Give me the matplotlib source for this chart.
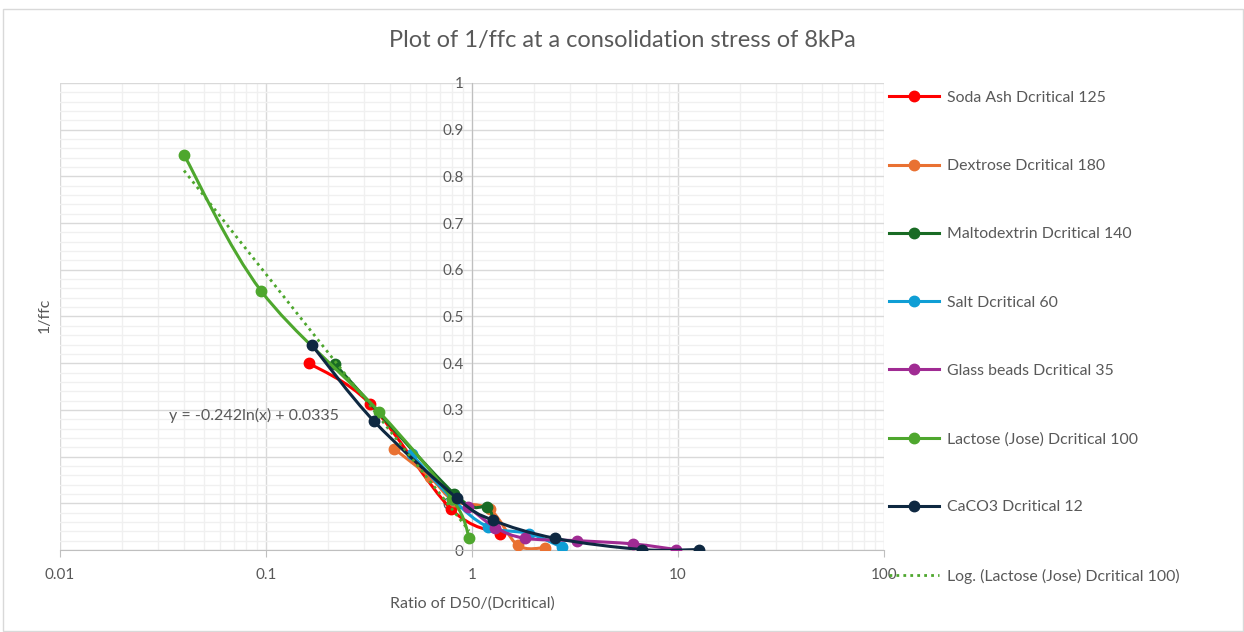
import numpy as np
import matplotlib
matplotlib.use("Agg")
import matplotlib.pyplot as plt
from matplotlib.path import Path
from matplotlib.patches import PathPatch, Rectangle
from matplotlib.lines import Line2D
from matplotlib.ticker import LogLocator, MultipleLocator, FixedLocator, FixedFormatter

plt.rcParams['font.family'] = ['Lato', 'DejaVu Sans']

# data: ratio D50/Dcritical and 1/ffc
soda_x = [0.162, 0.32, 0.79, 1.37]
soda_y = [0.400, 0.313, 0.088, 0.035]

dextrose_x = [0.418, 0.625, 0.82, 1.22, 1.67, 2.26]
dextrose_y = [0.217, 0.156, 0.105, 0.087, 0.010, 0.005]

malto_x = [0.216, 0.82, 1.18, 1.27]
malto_y = [0.398, 0.120, 0.092, 0.060]

salt_x = [0.51, 0.80, 1.19, 1.90, 2.73]
salt_y = [0.205, 0.110, 0.050, 0.035, 0.006]

glass_x = [0.96, 1.30, 1.81, 3.24, 6.05, 9.8]
glass_y = [0.092, 0.048, 0.025, 0.020, 0.013, 0.001]

lactose_x = [0.040, 0.0946, 0.354, 0.80, 0.97]
lactose_y = [0.846, 0.555, 0.296, 0.110, 0.026]

caco3_x = [0.167, 0.334, 0.845, 1.26, 2.53, 6.7, 12.6]
caco3_y = [0.439, 0.276, 0.111, 0.064, 0.025, 0.001, 0.001]

labels = ['Soda Ash Dcritical 125', 'Dextrose Dcritical 180', 'Maltodextrin Dcritical 140',
          'Salt Dcritical 60', 'Glass beads Dcritical 35', 'Lactose (Jose) Dcritical 100',
          'CaCO3 Dcritical 12']
colors = ['#FF0000', '#E97132', '#196B24', '#0F9ED5', '#A02B93', '#4EA72E', '#0E2841']

# log trendline shown on the chart
trend_a = -0.242
trend_b = 0.0335
trend_label = 'Log. (Lactose (Jose) Dcritical 100)'

series = [(soda_x, soda_y), (dextrose_x, dextrose_y), (malto_x, malto_y), (salt_x, salt_y),
          (glass_x, glass_y), (lactose_x, lactose_y), (caco3_x, caco3_y)]


def smooth_path(xs, ys):
    # Excel style smoothed line, bezier built in log-x space
    lx = np.log10(np.array(xs, dtype=float))
    y = np.array(ys, dtype=float)
    p = np.column_stack([lx, y])
    n = len(p)
    verts = [p[0]]
    codes = [Path.MOVETO]
    for i in range(n - 1):
        p0 = p[i - 1] if i > 0 else p[i]
        p3 = p[i + 2] if i + 2 < n else p[i + 1]
        c1 = p[i] + (p[i + 1] - p0) / 6.0
        c2 = p[i + 1] - (p3 - p[i]) / 6.0
        verts += [c1, c2, p[i + 1]]
        codes += [Path.CURVE4] * 3
    verts = np.array(verts)
    verts[:, 0] = 10 ** verts[:, 0]
    return Path(verts, codes)


fig = plt.figure(figsize=(12.44, 6.32), dpi=100)
W, H = 1244, 632
ax = fig.add_axes([60 / W, 1 - 550 / H, (884 - 60) / W, (550 - 83) / H])

ax.set_xscale('log')
ax.set_xlim(0.01, 100)
ax.set_ylim(0, 1)

ax.xaxis.set_major_locator(FixedLocator([0.01, 0.1, 1, 10, 100]))
ax.xaxis.set_major_formatter(FixedFormatter(['0.01', '0.1', '1', '10', '100']))
ax.xaxis.set_minor_locator(LogLocator(base=10, subs=np.arange(2, 10)))
ax.yaxis.set_major_locator(MultipleLocator(0.1))
ax.yaxis.set_minor_locator(MultipleLocator(0.02))
ax.yaxis.set_major_formatter(plt.FuncFormatter(lambda v, p: ('%.1f' % v).rstrip('0').rstrip('.') if v else '0'))

ax.grid(which='major', color='#D9D9D9', linewidth=1.0, zorder=0)
ax.grid(which='minor', color='#F0F0F0', linewidth=1.0, zorder=0)
ax.set_axisbelow(True)

for s in ['top', 'right']:
    ax.spines[s].set_visible(False)
ax.spines['left'].set_position(('data', 1))
ax.spines['left'].set_color('#BFBFBF')
ax.spines['bottom'].set_color('#BFBFBF')
ax.tick_params(axis='y', which='both', length=0, labelsize=11, labelcolor='#595959', pad=6)
ax.tick_params(axis='x', which='major', length=5, color='#BFBFBF', labelsize=11,
               labelcolor='#595959', pad=8)
ax.tick_params(axis='x', which='minor', length=0)

handles = []
for k, ((xs, ys), c, lab) in enumerate(zip(series, colors, labels)):
    ax.add_patch(PathPatch(smooth_path(xs, ys), facecolor='none', edgecolor=c,
                           linewidth=2.2, zorder=3 + k, capstyle='round', joinstyle='round'))
    ax.plot(xs, ys, 'o', color=c, markersize=7.5, zorder=3 + k)
    handles.append(Line2D([], [], color=c, linewidth=2.2, marker='o', markersize=7.5))

tx = np.geomspace(min(lactose_x), max(lactose_x), 100)
ax.plot(tx, trend_a * np.log(tx) + trend_b, linestyle=(0, (1, 1.5)), color='#4EA72E',
        linewidth=2.0, zorder=12)
handles.append(Line2D([], [], color='#4EA72E', linestyle=(0, (1, 1.5)), linewidth=2.0))

ax.text(0.034, 0.289, 'y = -0.242ln(x) + 0.0335', fontsize=11.5, color='#595959',
        va='center', ha='left', zorder=20)

fig.text(622 / W, 1 - 40 / H, 'Plot of 1/ffc at a consolidation stress of 8kPa',
         fontsize=17, color='#595959', ha='center', va='center')
fig.text(472 / W, 1 - 604 / H, 'Ratio of D50/(Dcritical)', fontsize=11.5, color='#595959',
         ha='center', va='center')
fig.text(45 / W, 1 - 315 / H, '1/ffc', fontsize=11.5, color='#595959', rotation=90,
         ha='center', va='center')

fig.legend(handles, labels + [trend_label], loc='upper left',
           bbox_to_anchor=(884 / W, 1 - 86 / H), frameon=False, fontsize=11.4,
           labelcolor='#595959', handlelength=3.2, handletextpad=0.45, labelspacing=3.42,
           borderaxespad=0, borderpad=0.3)

fig.patches.append(Rectangle((3 / W, 1 / H), 1240 / W, (632 - 10) / H, transform=fig.transFigure,
                             fill=False, edgecolor='#D9D9D9', linewidth=1.0))

fig.savefig('out.png', dpi=100)
